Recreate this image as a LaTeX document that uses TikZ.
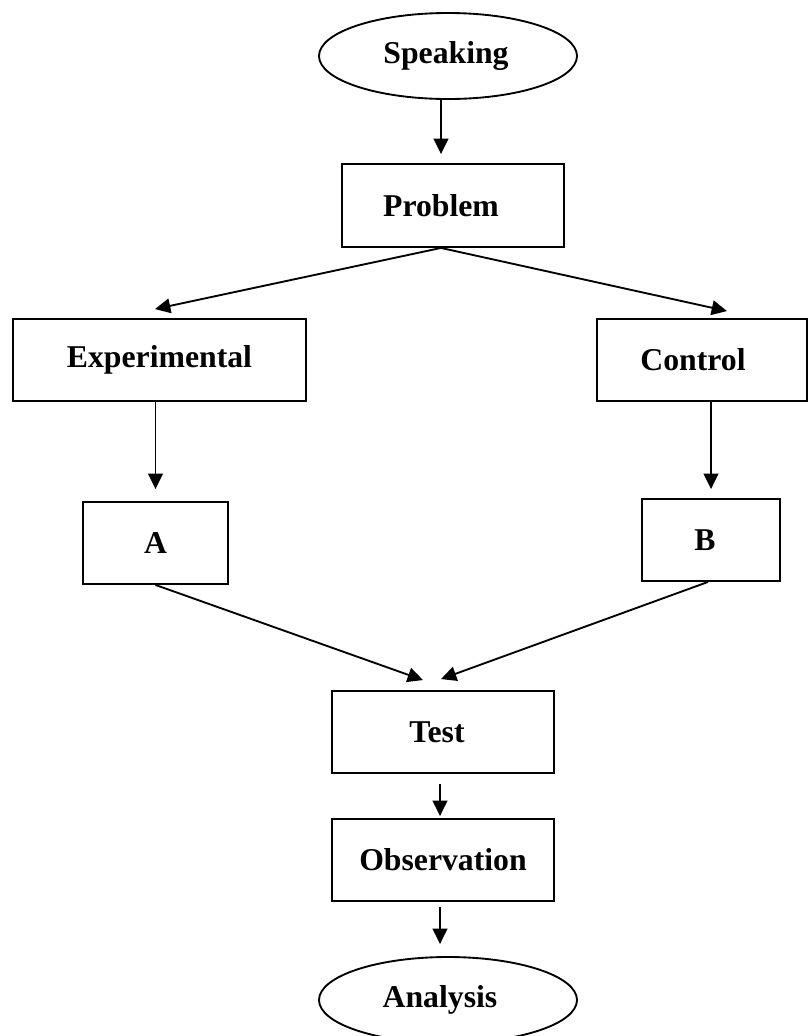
\documentclass[tikz,border=0pt]{standalone}
\usepackage{fontspec}
\setmainfont{Liberation Serif}
\usetikzlibrary{positioning}
\usetikzlibrary{arrows.meta,shapes.geometric,calc}

% moves a label to the left inside its box
\newcommand{\leftnudge}[2]{\hspace*{-#1}#2}

\begin{document}
\begin{tikzpicture}[x=0.75pt,y=-0.75pt]
    \useasboundingbox (0,0) rectangle (808,1036);
    \begin{scope}[every node/.style={rectangle,draw,line width=1.4pt,inner sep=0pt,font=\fontsize{23.8}{28}\selectfont\bfseries}]
        \node[ellipse,minimum width=193.5pt,minimum height=64.5pt](speaking) at (448,56) {\leftnudge{3pt}{Speaking}};
        \node[minimum width=166.5pt,minimum height=62.25pt](problem) at (453,205.5) {\leftnudge{18pt}{Problem}};
        \node[minimum width=219.75pt,minimum height=61.5pt](experimental) at (159.5,360) {Experimental};
        \node[minimum width=157.5pt,minimum height=61.5pt](control) at (702,360) {\leftnudge{13.5pt}{Control}};
        \node[minimum width=108.75pt,minimum height=61.5pt](groupA) at (155.5,543) {A};
        \node[minimum width=103.5pt,minimum height=61.5pt](groupB) at (711,540) {\leftnudge{9pt}{B}};
        \node[minimum width=166.5pt,minimum height=61.5pt](test) at (443,732) {\leftnudge{9pt}{Test}};
        \node[minimum width=166.5pt,minimum height=61.5pt](observation) at (443,860) {Observation};
        \node[ellipse,minimum width=193.5pt,minimum height=64.5pt](analysis) at (448,1000) {\leftnudge{12pt}{Analysis}};
    \end{scope}
    %Lines
    \begin{scope}[>={Triangle[length=11.5pt,width=11pt]}, line width=1.4pt]
        \draw[->] ($(speaking.south)+(-7,0)$) -- ($(problem.north)+(-12,-9)$);
        \draw[->] ($(problem.south)+(-12,0)$) -- ($(experimental.north)+(-4.5,-9)$);
        \draw[->] ($(problem.south)+(-12,0)$) -- ($(control.north)+(25,-7)$);
        \draw[->] (experimental.south -| groupA.north) -- ($(groupA.north)+(0,-12)$);
        \draw[->] (control.south -| groupB.north) -- ($(groupB.north)+(0,-9)$);
        \draw[->] (groupA.south) -- ($(test.north)+(-20,-10)$);
        \draw[->] ($(groupB.south)+(-3,0)$) -- ($(test.north)+(-2,-11)$);
        \draw[->] ($(test.south)+(-3,10)$) -- ($(observation.north)+(-3,-2)$);
        \draw[->] ($(observation.south)+(-3,5)$) -- ($(analysis.north)+(-8,-12)$);
    \end{scope}
\end{tikzpicture}
\end{document}
